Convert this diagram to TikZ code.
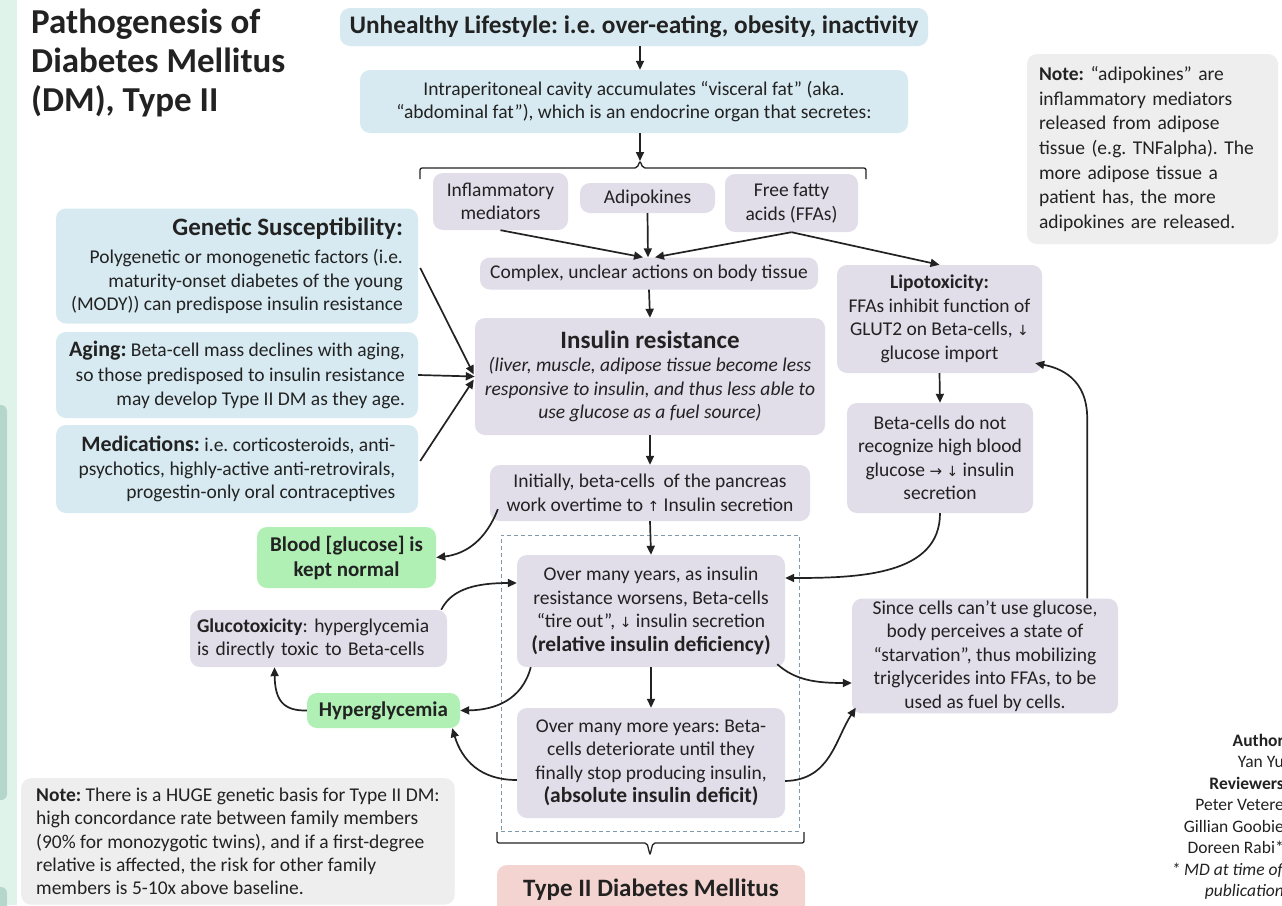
\documentclass[tikz,border=0pt]{standalone}
\usepackage{fontspec}
\setmainfont{Carlito}
\newfontfamily\symfont{DejaVu Sans}
\usetikzlibrary{arrows.meta,calc}
\frenchspacing
\newcommand\fz[2]{\fontsize{#1}{#2}\selectfont}
\newcommand\upar{{\symfont\fontsize{14}{14}\selectfont ↑}}
\newcommand\dnar{{\symfont\fontsize{14}{14}\selectfont ↓}}
\newcommand\rtar{{\symfont\fontsize{15}{15}\selectfont →}}
\definecolor{bluebox}{HTML}{D7EAF1}
\definecolor{lavbox}{HTML}{E1DDE9}
\definecolor{greenbox}{HTML}{B0F0B4}
\definecolor{pinkbox}{HTML}{F4D4D0}
\definecolor{graybox}{HTML}{EEEEEE}
\definecolor{stripL}{HTML}{E0F3EA}
\definecolor{stripD}{HTML}{B5D6CB}
\definecolor{dashc}{HTML}{7F98AA}
\definecolor{ink}{HTML}{222222}
\tikzset{
  box/.style={rounded corners=10pt, inner sep=2pt, align=center, text=ink, font=\fz{19.5}{23.5}},
  blu/.style={box, fill=bluebox},
  lav/.style={box, fill=lavbox},
  grn/.style={box, fill=greenbox, font=\fz{21}{25}\bfseries},
  gry/.style={box, fill=graybox},
  arr/.style={-{Triangle[length=9pt,width=8pt]}, line width=1.7pt, draw=ink},
  brk/.style={line width=1.3pt, draw=ink, rounded corners=2pt},
}
\begin{document}
\begin{tikzpicture}[x=1pt,y=-1pt]
\useasboundingbox (0,0) rectangle (1282,905);
\clip (0,0) rectangle (1282,905);
\fill[white] (0,0) rectangle (1282,905);
% left strip
\fill[stripL] (0,0) rectangle (17,905);
\fill[stripD, rounded corners=6pt] (-10,405) rectangle (7,800);
\fill[stripD, rounded corners=6pt] (-10,887) rectangle (7,930);

% title
\node[anchor=north west, align=left, inner sep=0pt, text=ink, font=\fz{35}{39}\bfseries] (title) at (31,9)
  {Pathogenesis of\\Diabetes Mellitus\\(DM), Type II};

% top chain
\node[blu, minimum width=588, minimum height=38, font=\fz{25.3}{28}\bfseries] (life) at (634,27)
  {Unhealthy Lifestyle: i.e. over-eating, obesity, inactivity};
\node[blu, minimum width=548, minimum height=63] (intra) at (634,101.5)
  {Intraperitoneal cavity accumulates “visceral fat” (aka.\\“abdominal fat”), which is an endocrine organ that secretes:};
\coordinate (tip1) at (640,161);
\draw[brk] (420,179) -- (420,168) -- (637,168) -- (tip1) -- (643,168) -- (866,168) -- (866,179);
\draw[arr] (life.south -| tip1) -- (intra.north -| tip1);
\draw[arr] (intra.south -| tip1) -- (tip1);

\node[lav, minimum width=135, minimum height=57] (infl) at (500.5,201.5) {Inflammatory\\mediators};
\node[lav, minimum width=135, minimum height=30] (adip) at (647.5,198) {Adipokines};
\node[lav, minimum width=133, minimum height=58] (ffa) at (791.5,203) {Free fatty\\acids (FFAs)};
\node[lav, minimum width=338, minimum height=32] (complex) at (649,273.5) {Complex, unclear actions on body tissue};

\draw[arr] (infl.south) -- ($(complex.north)+(-6,0)$);
\draw[arr] (adip.south) -- ($(complex.north)+(-1,0)$);
\draw[arr] (ffa.south) -- ($(complex.north)+(6,0)$);

\node[lav, minimum width=350, minimum height=117] (ir) at (650,376.5)
  {{\fz{25}{28}\bfseries Insulin resistance}\\{\itshape (liver, muscle, adipose tissue become less}\\{\itshape responsive to insulin, and thus less able to}\\{\itshape use glucose as a fuel source)}};
\draw[arr] (complex.south) -- (ir.north);

\node[lav, minimum width=320, minimum height=56] (init) at (650,493)
  {Initially, beta-cells~ of the pancreas\\work overtime to \upar\ Insulin secretion};
\draw[arr] (ir.south) -- (init.north);

% left blue boxes
\node[blu, minimum width=362, minimum height=115, align=right] (gen) at (237,266)
  {{\fz{25}{28}\bfseries Genetic Susceptibility:}\\[5pt]Polygenetic or monogenetic factors (i.e.\\maturity-onset diabetes of the young\\(MODY)) can predispose insulin resistance};
\node[blu, minimum width=362, minimum height=86, align=right, font=\fz{19.5}{24.5}] (aging) at (237,375)
  {{\fz{22}{24.5}\bfseries Aging:} Beta-cell mass declines with aging,\\so those predisposed to insulin resistance\\may develop Type II DM as they age.};
\node[blu, minimum width=362, minimum height=88, align=right] (meds) at (237,469)
  {{\fz{22}{24}\bfseries Medications:} i.e. corticosteroids, anti-\\psychotics, highly-active anti-retrovirals,\\progestin-only oral contraceptives};
\draw[arr] ($(gen.east)+(2,2)$) -- ($(ir.west)+(-1,-2)$);
\draw[arr] (aging.east) -- (ir.west);
\draw[arr] ($(meds.east)+(2,-8)$) -- ($(ir.west)+(-1,3)$);

% dashed region
\node[draw=dashc, dash pattern=on 4pt off 3pt, line width=1pt, minimum width=298, minimum height=296, inner sep=0pt] (dashbox) at (650,683) {};

\node[lav, minimum width=268, minimum height=112] (over1) at (651,611)
  {Over many years, as insulin\\resistance worsens, Beta-cells\\“tire out”, \dnar\ insulin secretion\\{\fz{21.5}{25}\bfseries (relative insulin deficiency)}};
\node[lav, minimum width=268, minimum height=110] (over2) at (651,763)
  {Over many more years: Beta-\\cells deteriorate until they\\finally stop producing insulin,\\{\fz{21.5}{25}\bfseries (absolute insulin deficit)}};
\draw[arr] (init.south) -- (over1.north);
\draw[arr] (over1.south) -- (over2.north);

\coordinate (tip2) at (650,855);
\draw[brk] (497,832) -- (497,843) -- (647,843) -- (tip2) -- (653,843) -- (804,843) -- (804,832);
\node[box, fill=pinkbox, minimum width=308, minimum height=50, font=\fz{25}{28}\bfseries] (t2) at (651,890) {Type II Diabetes Mellitus};

% green + glucotoxicity
\node[grn, minimum width=179, minimum height=61] (blood) at (346.5,557.5) {Blood [glucose] is\\kept normal};
\node[lav, minimum width=257, minimum height=57, align=left, text width=243] (gluco) at (318.5,638.5)
  {\textbf{Glucotoxicity}: hyperglycemia\\is directly toxic to Beta-cells};
\node[grn, minimum width=153, minimum height=35] (hyper) at (383.5,710.5) {Hyperglycemia};

\draw[arr] ($(init.south west)+(8,-12)$) .. controls (486,540) and (466,554) .. (blood.east);
\draw[arr] ($(gluco.north east)+(-6,0)$) .. controls (452,588) and (478,583) .. ($(over1.west)+(0,-28)$);
\draw[arr] (hyper.west) .. controls (283,711) and (275,700) .. ($(gluco.south)+(-44,0)$);
\draw[arr] ($(over1.south west)+(14,0)$) .. controls (522,700) and (495,710) .. (hyper.east);
\draw[arr] ($(over2.west)+(0,17)$) .. controls (480,780) and (462,760) .. ($(hyper.south east)+(-8,0)$);

% right column
\node[lav, minimum width=205, minimum height=108] (lipo) at (939.5,319)
  {\textbf{Lipotoxicity:}\\FFAs inhibit function of\\GLUT2 on Beta-cells, \dnar\\glucose import};
\node[lav, minimum width=186, minimum height=110] (beta) at (940,458)
  {Beta-cells do not\\recognize high blood\\glucose \rtar\ \dnar\ insulin\\secretion};
\node[lav, minimum width=266, minimum height=112] (since) at (985,656)
  {Since cells can’t use glucose,\\body perceives a state of\\“starvation”, thus mobilizing\\triglycerides into FFAs, to be\\used as fuel by cells.};
\draw[arr] (ffa.south) -- (lipo.north);
\draw[arr] (lipo.south) -- (beta.north);
\draw[arr] (beta.south) .. controls (940,575) and (860,578) .. ($(over1.east)+(0,-33)$);
\draw[arr] ($(over1.south east)+(-8,-3)$) .. controls (795,680) and (815,683) .. ($(since.west)+(0,27)$);
\draw[arr] ($(over2.east)+(0,18)$) .. controls (830,780) and (835,740) .. ($(since.south west)+(4,-6)$);
\draw[arr] ($(since.north east)+(-31,0)$) -- ++(0,-180) .. controls +(0,-40) and (1060,368) .. ($(lipo.south east)+(-7,-10)$);

% notes
\node[gry, minimum width=251, minimum height=190, align=left, text width=227, inner xsep=12pt, font=\fz{19.5}{24.7}] (note1) at (1152.5,149)
  {\textbf{Note:} “adipokines” are\\inflammatory mediators\\released from adipose\\tissue (e.g. TNFalpha). The\\more adipose tissue a\\patient has, the more\\adipokines are released.};
\node[gry, anchor=north west, align=left, minimum width=424, inner xsep=15pt, inner ysep=10pt, font=\fz{19.5}{23.2}] (note2) at (21,778)
  {\textbf{Note:} There is a HUGE genetic basis for Type II DM:\\high concordance rate between family members\\(90\% for monozygotic twins), and if a first-degree\\relative is affected, the risk for other family\\members is 5-10x above baseline.};

% authors
\node[anchor=north east, align=right, inner sep=0pt, text=ink, font=\fz{17.5}{21.5}] (auth) at (1284,734)
  {\textbf{Author}\\Yan Yu\\\textbf{Reviewers}\\Peter Vetere\\Gillian Goobie\\Doreen Rabi*\\\textit{* MD at time of}\\\textit{publication}};
\end{tikzpicture}
\end{document}
